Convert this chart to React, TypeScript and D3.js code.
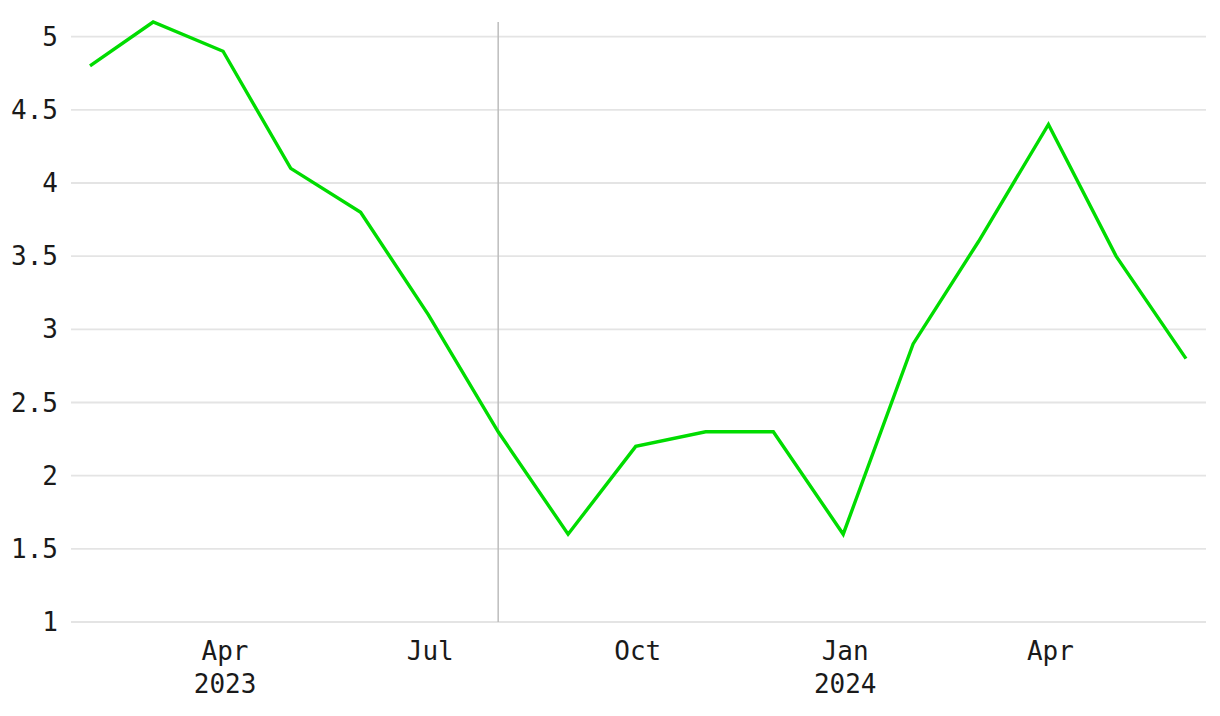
import React from "react";
import * as d3 from "d3";

const months: string[] = [
  "2023-02", "2023-03", "2023-04", "2023-05", "2023-06", "2023-07", "2023-08", "2023-09",
  "2023-10", "2023-11", "2023-12", "2024-01", "2024-02", "2024-03", "2024-04", "2024-05", "2024-06",
];
const values: number[] = [4.8, 5.1, 4.9, 4.1, 3.8, 3.1, 2.3, 1.6, 2.2, 2.3, 2.3, 1.6, 2.9, 3.6, 4.4, 3.5, 2.8];
const yTicks: number[] = [1, 1.5, 2, 2.5, 3, 3.5, 4, 4.5, 5];
const xTickDates: string[] = ["2023-04", "2023-07", "2023-10", "2024-01", "2024-04"];
const markerDate = "2023-08";

const W = 1220;
const H = 716;
const parse = d3.timeParse("%Y-%m");

export default function App() {
  const dates = months.map((m) => parse(m) as Date);
  const x = d3.scaleTime().domain([dates[0], dates[dates.length - 1]]).range([90, 1186]);
  const y = d3.scaleLinear().domain([1, 5.1]).range([622, 22]);
  const line = d3
    .line<number>()
    .x((_, i) => x(dates[i]))
    .y((d) => y(d));
  const font = "'DejaVu Sans Mono', monospace";
  const gridL = 71;
  const gridR = 1206;
  const mx = x(parse(markerDate) as Date);
  return (
    <svg width={W} height={H} style={{ position: "absolute", left: 0, top: 0, background: "#fff" }}>
      {yTicks.map((t) => (
        <g key={t}>
          <line x1={gridL} x2={gridR} y1={y(t)} y2={y(t)} stroke="#e4e4e4" strokeWidth={1.8} />
          <text x={58} y={y(t)} dy="0.35em" textAnchor="end" fontFamily={font} fontSize={26} fill="#1a1a1a">
            {String(t)}
          </text>
        </g>
      ))}
      <line x1={mx} x2={mx} y1={y(5.1)} y2={y(1)} stroke="#bdbdbd" strokeWidth={1.5} />
      {xTickDates.map((s) => {
        const d = parse(s) as Date;
        const label = d3.timeFormat("%b")(d);
        const showYear = (d.getMonth() === 3 && d.getFullYear() === 2023) || d.getMonth() === 0;
        return (
          <g key={s}>
            <text x={x(d) + 2} y={651} dy="0.35em" textAnchor="middle" fontFamily={font} fontSize={26} fill="#1a1a1a">
              {label}
            </text>
            {showYear && (
              <text x={x(d) + 2} y={684} dy="0.35em" textAnchor="middle" fontFamily={font} fontSize={26} fill="#1a1a1a">
                {d3.timeFormat("%Y")(d)}
              </text>
            )}
          </g>
        );
      })}
      <path d={line(values) || ""} fill="none" stroke="#00dc00" strokeWidth={3.4} strokeLinejoin="miter" />
    </svg>
  );
}
